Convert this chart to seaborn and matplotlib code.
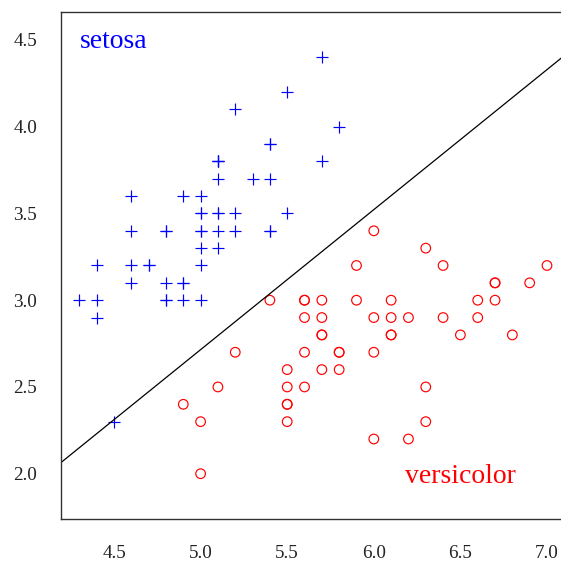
import matplotlib
matplotlib.use("Agg")
import matplotlib.pyplot as plt
import seaborn as sns
import pandas as pd

setosa_len = [5.1,4.9,4.7,4.6,5.0,5.4,4.6,5.0,4.4,4.9,5.4,4.8,4.8,4.3,5.8,5.7,5.4,5.1,5.7,5.1,
              5.4,5.1,4.6,5.1,4.8,5.0,5.0,5.2,5.2,4.7,4.8,5.4,5.2,5.5,4.9,5.0,5.5,4.9,4.4,5.1,
              5.0,4.5,4.4,5.0,5.1,4.8,5.1,4.6,5.3,5.0]
setosa_wid = [3.5,3.0,3.2,3.1,3.6,3.9,3.4,3.4,2.9,3.1,3.7,3.4,3.0,3.0,4.0,4.4,3.9,3.5,3.8,3.8,
              3.4,3.7,3.6,3.3,3.4,3.0,3.4,3.5,3.4,3.2,3.1,3.4,4.1,4.2,3.1,3.2,3.5,3.6,3.0,3.4,
              3.5,2.3,3.2,3.5,3.8,3.0,3.8,3.2,3.7,3.3]
versi_len = [7.0,6.4,6.9,5.5,6.5,5.7,6.3,4.9,6.6,5.2,5.0,5.9,6.0,6.1,5.6,6.7,5.6,5.8,6.2,5.6,
             5.9,6.1,6.3,6.1,6.4,6.6,6.8,6.7,6.0,5.7,5.5,5.5,5.8,6.0,5.4,6.0,6.7,6.3,5.6,5.5,
             5.5,6.1,5.8,5.0,5.6,5.7,5.7,6.2,5.1,5.7]
versi_wid = [3.2,3.2,3.1,2.3,2.8,2.8,3.3,2.4,2.9,2.7,2.0,3.0,2.2,2.9,2.9,3.1,3.0,2.7,2.2,2.5,
             3.2,2.8,2.5,2.8,2.9,3.0,2.8,3.0,2.9,2.6,2.4,2.4,2.7,2.7,3.0,3.4,3.1,2.3,3.0,2.5,
             2.6,3.0,2.6,2.3,2.7,3.0,2.9,2.9,2.5,2.8]
line_intercept = -1.320
line_slope = 0.807
xticks = [4.5, 5.0, 5.5, 6.0, 6.5, 7.0]
yticks = [2.0, 2.5, 3.0, 3.5, 4.0, 4.5]

sns.set_style("white")
plt.rcParams['font.family'] = ['Liberation Serif', 'DejaVu Serif']

fig = plt.figure(figsize=(5.61, 5.63), dpi=100)
ax = fig.add_axes([60.5/561, 44/563, (565.7-60.5)/561, (551-44)/563])

df_s = pd.DataFrame({'x': setosa_len, 'y': setosa_wid})
df_v = pd.DataFrame({'x': versi_len, 'y': versi_wid})
sns.scatterplot(data=df_s, x='x', y='y', ax=ax, marker='+', color='blue', s=85, linewidth=0.85)
sns.scatterplot(data=df_v, x='x', y='y', ax=ax, marker='o', facecolors='none', edgecolor='red',
                s=48, linewidth=0.85)
ax.axline((0, line_intercept), slope=line_slope, color='black', lw=0.9)

ax.text(4.304, 4.454, 'setosa', color='blue', fontsize=20, ha='left', va='baseline')
ax.text(6.503, 1.946, 'versicolor', color='red', fontsize=20, ha='center', va='baseline')

ax.set_xlim(4.191, 7.108)
ax.set_ylim(1.739, 4.661)
ax.set_xticks(xticks)
ax.set_yticks(yticks)
ax.set_xticklabels([f"{t:.1f}" for t in xticks])
ax.set_yticklabels([f"{t:.1f}" for t in yticks])
ax.set_xlabel('')
ax.set_ylabel('')
ax.tick_params(direction='out', length=8, width=1, color='#444444', labelsize=13.8, pad=9, labelcolor='#222222')
ax.tick_params(axis='x', pad=11)
for sp in ax.spines.values():
    sp.set_color('#333333')
    sp.set_linewidth(1.0)

fig.savefig('out.png', dpi=100)
